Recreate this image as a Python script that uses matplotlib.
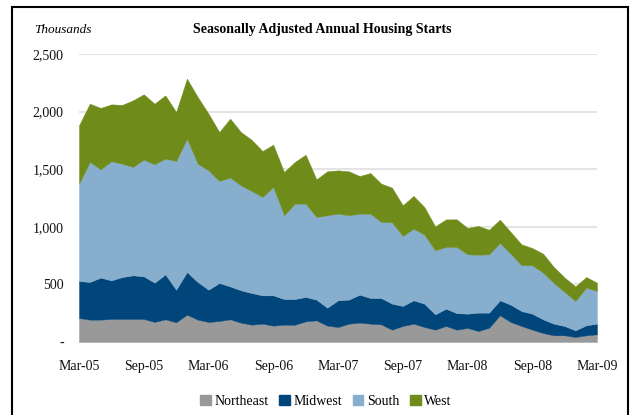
import matplotlib
matplotlib.use("Agg")
import matplotlib.pyplot as plt
from matplotlib.patches import Rectangle

# monthly, Mar-05 .. Mar-09, thousands (seasonally adjusted annual rate)
months = ["Mar-05", "Sep-05", "Mar-06", "Sep-06", "Mar-07",
          "Sep-07", "Mar-08", "Sep-08", "Mar-09"]

northeast = [208, 194, 194, 200, 200, 200, 200, 174, 197, 171, 237, 194,
             174, 182, 197, 168, 150, 159, 142, 150, 150, 179, 188, 142,
             130, 159, 168, 159, 153, 107, 139, 159, 130, 107, 139, 107,
             122, 95, 124, 232, 174, 139, 107, 78, 58, 58, 43, 58, 67]
midwest = [322, 327, 365, 335, 364, 379, 370, 341, 390, 283, 371, 327,
           280, 330, 286, 281, 275, 246, 263, 223, 223, 212, 180, 156,
           232, 209, 243, 223, 229, 226, 174, 203, 203, 133, 150, 144,
           124, 160, 131, 130, 150, 130, 139, 119, 101, 81, 58, 87, 92]
south = [845, 1042, 940, 1034, 984, 940, 1013, 1028, 1005, 1117, 1157, 1027,
         1036, 886, 944, 911, 885, 854, 941, 727, 828, 810, 717, 802,
         752, 732, 703, 732, 660, 706, 607, 622, 599, 556, 536, 574,
         515, 503, 506, 498, 443, 397, 420, 405, 353, 295, 255, 327, 284]
west = [506, 506, 533, 494, 510, 579, 567, 526, 549, 426, 521, 579,
        492, 425, 512, 463, 445, 399, 367, 376, 362, 425, 327, 382,
        376, 382, 327, 353, 333, 301, 267, 284, 240, 208, 239, 240,
        229, 249, 214, 202, 188, 182, 150, 165, 139, 125, 127, 92, 72]

names = ["Northeast", "Midwest", "South", "West"]
colors = ["#999999", "#00467A", "#88AECE", "#6F8C1A"]

plt.rcParams['font.family'] = ['Liberation Serif', 'DejaVu Serif']
plt.rcParams['font.size'] = 10

fig = plt.figure(figsize=(6.33, 4.15), dpi=100)
ax = fig.add_axes([79/633, 1-342/415, 518/633, 288/415])

x = list(range(len(northeast)))
polys = ax.stackplot(x, northeast, midwest, south, west, colors=colors, lw=0)
for p in polys:
    p.set_edgecolor(p.get_facecolor())
    p.set_linewidth(0.3)

ax.set_xlim(0, len(x) - 1)
ax.set_ylim(0, 2500)
ax.set_xticks(range(0, len(x), 6))
ax.set_xticklabels(months)
yt = [0, 500, 1000, 1500, 2000, 2500]
ax.set_yticks(yt)
ax.set_yticklabels(["-" if v == 0 else f"{v:,}" for v in yt])
ax.tick_params(axis='both', length=0, labelsize=10, colors='#111111')
ax.tick_params(axis='x', pad=13)
ax.tick_params(axis='y', pad=11)
ax.grid(axis='y', color='#E4E4E4', lw=1.5)
ax.set_axisbelow(True)
for s in ax.spines.values():
    s.set_visible(False)

fig.text(322/633, 1-30/415, "Seasonally Adjusted Annual Housing Starts",
         ha='center', va='center', fontweight='bold', fontsize=10)
fig.text(34/633, 1-30/415, "Thousands", ha='left', va='center',
         style='italic', fontsize=9.5)

handles = [Rectangle((0, 0), 1, 1, color=c) for c in colors]
fig.legend(handles, names, loc='center', bbox_to_anchor=(326/633, 1-401/415),
           ncol=4, frameon=False, handlelength=0.75, handleheight=0.75,
           handletextpad=0.25, columnspacing=0.8, fontsize=10)

fig.patches.append(Rectangle((12/633, -0.1), 616/633, 0.1 + 1 - 7/415,
                             transform=fig.transFigure, fill=False,
                             edgecolor='black', lw=1.5))

fig.savefig("out.png", dpi=100)
